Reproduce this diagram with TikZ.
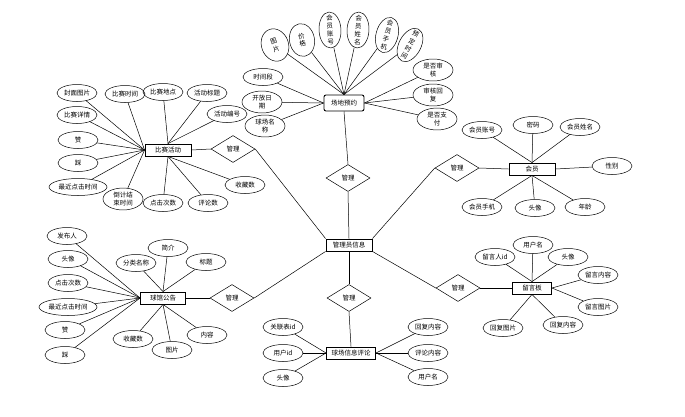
\documentclass[tikz,border=0pt]{standalone}
\usepackage{fontspec}
\setmainfont{Noto Sans CJK SC}
\usetikzlibrary{shapes.geometric,positioning}

\tikzset{
  entity/.style={draw, line width=0.9pt, minimum width=46pt, minimum height=12pt, inner sep=1.5pt},
  attr/.style={draw, ellipse, minimum width=40pt, minimum height=17pt, inner sep=1pt, align=center},
  vattr/.style={draw, ellipse, minimum width=22pt, minimum height=36pt, inner sep=0pt},
  vtext/.style={align=center, inner sep=0pt, font=\fontsize{6.5}{8}\selectfont},
  rel/.style={draw, diamond, minimum width=44pt, minimum height=27pt, inner sep=0pt, aspect=1.6},
}

\begin{document}
\begin{tikzpicture}[x=1pt, y=-1pt, line width=0.5pt, font=\fontsize{6.5}{7.5}\selectfont]
    \useasboundingbox (0,0) rectangle (685,416);

    % Entities
    \node[entity] (adm) at (349,245) {管理员信息};
    \node[entity, rounded corners=2pt, minimum width=40pt, minimum height=16pt] (rsv) at (344,103) {场地预约};
    \node[entity] (ev) at (168,150) {比赛活动};
    \node[entity] (mem) at (532,169) {会员};
    \node[entity, minimum width=45pt] (ann) at (163,298) {球馆公告};
    \node[entity, minimum width=49pt] (cmt) at (351,353) {球场信息评论};
    \node[entity, minimum width=39pt] (msg) at (532,288) {留言板};

    % Relations
    \node[rel] (d0) at (348,178) {管理};
    \node[rel] (d1) at (233,149) {管理};
    \node[rel] (d2) at (232,298) {管理};
    \node[rel] (d3) at (457,168) {管理};
    \node[rel] (d4) at (458,288) {管理};
    \node[rel] (d5) at (349,298) {管理};

    \draw (rsv.south) -- (d0.north);
    \draw (d0.south) -- (adm.north);
    \draw (ev.east) -- (d1.west);
    \draw (d1.east) -- (adm.north west);
    \draw (ann.east) -- (d2.west);
    \draw (d2.east) -- (adm.south west);
    \draw (mem.west) -- (d3.east);
    \draw (d3.west) -- (adm.north east);
    \draw (msg.west) -- (d4.east);
    \draw (d4.west) -- (adm.south east);
    \draw (adm.south) -- (d5.north);
    \draw (d5.south) -- (cmt.north);

    % Reservation attributes (upright ones, text set along the ellipse)
    \node[vattr, rotate=20, minimum width=27pt, minimum height=33pt] (r1) at (275,45) {};
    \node[vattr, rotate=10, minimum width=25pt, minimum height=33pt] (r2) at (302,40) {};
    \node[vattr, rotate=3] (r3) at (330,30) {};
    \node[vattr, rotate=-3] (r4) at (358,30) {};
    \node[vattr, rotate=-15] (r5) at (387,35) {};
    \node[vattr, rotate=-28] (r6) at (410,45) {};
    \node[vtext, rotate=20] at (r1) {图\\片};
    \node[vtext, rotate=10] at (r2) {价\\格};
    \node[vtext, rotate=3] at (r3) {会\\员\\账\\号};
    \node[vtext, rotate=-3] at (r4) {会\\员\\姓\\名};
    \node[vtext, rotate=-15] at (r5) {会\\员\\手\\机};
    \node[vtext, rotate=-28] at (r6) {预\\定\\时\\间};
    \node[attr] (r7) at (263,77) {时间段};
    \node[attr] (r8) at (262,102) {开放日\\期};
    \node[attr] (r9) at (265,126) {球场名\\称};
    \node[attr] (r10) at (433,70) {是否审\\核};
    \node[attr] (r11) at (433,95) {审核回\\复};
    \node[attr] (r12) at (437,119) {是否支\\付};
    \foreach \i in {1,...,6} \draw (rsv.north) -- (r\i);
    \foreach \i in {7,8,9} \draw (rsv.west) -- (r\i);
    \foreach \i in {10,11,12} \draw (rsv.east) -- (r\i);

    % Event attributes
    \node[attr] (e1) at (77,93) {封面图片};
    \node[attr] (e2) at (125,94) {比赛时间};
    \node[attr] (e3) at (77,115) {比赛详情};
    \node[attr] (e4) at (78,140) {赞};
    \node[attr] (e5) at (78,163) {踩};
    \node[attr] (e6) at (78,187) {最近点击时间};
    \node[attr] (e7) at (123,199) {倒计结\\束时间};
    \node[attr] (e8) at (163,92) {比赛地点};
    \node[attr] (e9) at (207,93) {活动标题};
    \node[attr] (e10) at (227,114) {活动编号};
    \node[attr] (e11) at (163,203) {点击次数};
    \node[attr] (e12) at (208,203) {评论数};
    \node[attr] (e13) at (245,185) {收藏数};
    \foreach \i in {1,...,7} \draw (ev.west) -- (e\i);
    \foreach \i in {8,9,10} \draw (ev.north) -- (e\i);
    \foreach \i in {11,12,13} \draw (ev.south) -- (e\i);

    % Member attributes
    \node[attr] (m1) at (482,130) {会员账号};
    \node[attr] (m2) at (533,125) {密码};
    \node[attr] (m3) at (580,127) {会员姓名};
    \node[attr] (m4) at (612,166) {性别};
    \node[attr] (m5) at (482,207) {会员手机};
    \node[attr] (m6) at (535,208) {头像};
    \node[attr] (m7) at (585,207) {年龄};
    \foreach \i in {1,2,3} \draw (mem.north) -- (m\i);
    \draw (mem.east) -- (m4);
    \foreach \i in {5,6,7} \draw (mem.south) -- (m\i);

    % Announcement attributes
    \node[attr] (n1) at (67,236) {发布人};
    \node[attr] (n2) at (68,259) {头像};
    \node[attr] (n3) at (68,283) {点击次数};
    \node[attr] (n4) at (68,307) {最近点击时间};
    \node[attr] (n5) at (65,330) {赞};
    \node[attr] (n6) at (65,355) {踩};
    \node[attr] (n7) at (136,263) {分类名称};
    \node[attr] (n8) at (168,248) {简介};
    \node[attr] (n9) at (206,262) {标题};
    \node[attr] (n10) at (133,339) {收藏数};
    \node[attr] (n11) at (172,350) {图片};
    \node[attr] (n12) at (207,335) {内容};
    \foreach \i in {1,...,6} \draw (ann.west) -- (n\i);
    \foreach \i in {7,8,9} \draw (ann.north) -- (n\i);
    \foreach \i in {10,11,12} \draw (ann.south) -- (n\i);

    % Comment attributes
    \node[attr] (c1) at (283,327) {关联表id};
    \node[attr] (c2) at (283,353) {用户id};
    \node[attr] (c3) at (283,378) {头像};
    \node[attr] (c4) at (428,327) {回复内容};
    \node[attr] (c5) at (428,353) {评论内容};
    \node[attr] (c6) at (428,377) {用户名};
    \foreach \i in {1,2,3} \draw (cmt.west) -- (c\i);
    \foreach \i in {4,5,6} \draw (cmt.east) -- (c\i);

    % Message board attributes
    \node[attr] (g1) at (495,257) {留言人id};
    \node[attr] (g2) at (533,245) {用户名};
    \node[attr] (g3) at (568,257) {头像};
    \node[attr] (g4) at (598,275) {留言内容};
    \node[attr] (g5) at (598,307) {留言图片};
    \node[attr] (g6) at (503,328) {回复图片};
    \node[attr] (g7) at (563,325) {回复内容};
    \foreach \i in {1,2,3} \draw (msg.north) -- (g\i);
    \foreach \i in {4,5} \draw (msg.east) -- (g\i);
    \foreach \i in {6,7} \draw (msg.south) -- (g\i);

\end{tikzpicture}
\end{document}
